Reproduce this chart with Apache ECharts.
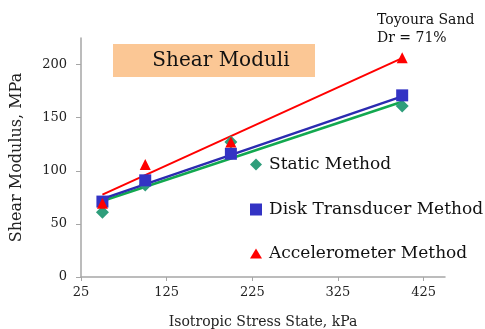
<!DOCTYPE html>
<html>
<head>
<meta charset="utf-8">
<script src="https://cdn.jsdelivr.net/npm/echarts@6/dist/echarts.min.js"></script>
<style>html,body{margin:0;padding:0;background:#fff}#c{width:485px;height:329px}</style>
</head>
<body>
<div id="c"></div>
<script>
// Data
var stress = [50, 100, 200, 400];
var staticMethod = [61, 86.5, 127, 161];
var diskTransducer = [71, 91, 116, 171];
var accelerometer = [69.5, 106, 127, 206.5];
// Trendline end points
var trendX = [50, 400];
var trendStatic = [71.5, 165];
var trendDisk = [73.5, 170];
var trendAccel = [77.5, 206];
var xTicks = [25, 125, 225, 325, 425];
var yTicks = [0, 50, 100, 150, 200];
var seriesNames = ['Static Method', 'Disk Transducer Method', 'Accelerometer Method'];

function pairs(xs, ys) { return xs.map(function (x, i) { return [x, ys[i]]; }); }

var FONT = 'DejaVu Serif';
var chart = echarts.init(document.getElementById('c'));
var legendBase = {
  orient: 'vertical', left: 245, itemWidth: 12, itemHeight: 12, selectedMode: false,
  textStyle: { fontFamily: FONT, fontSize: 17, color: '#111', padding: [0, 0, 0, 2] }
};
chart.setOption({
  animation: false,
  backgroundColor: '#fff',
  grid: { left: 81, right: 40, top: 38, bottom: 52, outerBoundsMode: 'none', containLabel: false },
  xAxis: {
    type: 'value', min: 25, max: 450,
    name: 'Isotropic Stress State, kPa', nameLocation: 'middle', nameGap: 38,
    nameTextStyle: { fontFamily: FONT, fontSize: 14, color: '#222' },
    axisLine: { show: true, lineStyle: { color: '#a6a6a6', width: 1.5 } },
    axisTick: { show: true, length: 4, lineStyle: { color: '#a6a6a6' }, customValues: xTicks },
    axisLabel: { fontFamily: FONT, fontSize: 13, color: '#222', margin: 9, customValues: xTicks },
    splitLine: { show: false }
  },
  yAxis: {
    type: 'value', min: 0, max: 225,
    name: 'Shear Modulus, MPa', nameLocation: 'middle', nameGap: 56,
    nameTextStyle: { fontFamily: FONT, fontSize: 16, color: '#222' },
    axisLine: { show: true, lineStyle: { color: '#a6a6a6', width: 1.5 } },
    axisTick: { show: true, length: 5, lineStyle: { color: '#a6a6a6' }, customValues: yTicks },
    axisLabel: { fontFamily: FONT, fontSize: 13, color: '#222', margin: 14, customValues: yTicks },
    splitLine: { show: false }
  },
  legend: [
    Object.assign({}, legendBase, { top: 151, data: [seriesNames[0]] }),
    Object.assign({}, legendBase, { top: 196, data: [seriesNames[1]] }),
    Object.assign({}, legendBase, { top: 240, data: [seriesNames[2]], itemWidth: 12, itemHeight: 10 })
  ],
  graphic: [
    { type: 'rect', shape: { x: 113, y: 44, width: 202, height: 33 }, style: { fill: '#FBC795' } },
    { type: 'text', x: 221, y: 61, style: { text: 'Shear Moduli', font: '20px "DejaVu Serif"', fill: '#111', align: 'center', verticalAlign: 'middle' } },
    { type: 'text', x: 377, y: 11, style: { text: 'Toyoura Sand\nDr = 71%', font: '14px "DejaVu Serif"', lineHeight: 18, fill: '#111', align: 'left', verticalAlign: 'top' } }
  ],
  series: [
    { type: 'line', data: pairs(trendX, trendStatic), symbol: 'none', lineStyle: { color: '#12a84f', width: 2.5 }, z: 2, silent: true },
    { type: 'line', data: pairs(trendX, trendDisk), symbol: 'none', lineStyle: { color: '#2b2bb0', width: 2.5 }, z: 2, silent: true },
    { type: 'line', data: pairs(trendX, trendAccel), symbol: 'none', lineStyle: { color: '#ff0000', width: 2 }, z: 2, silent: true },
    { name: seriesNames[0], type: 'scatter', data: pairs(stress, staticMethod), symbol: 'diamond', symbolSize: 13, itemStyle: { color: '#2f9e7b', opacity: 1 }, z: 3 },
    { name: seriesNames[1], type: 'scatter', data: pairs(stress, diskTransducer), symbol: 'rect', symbolSize: 12, itemStyle: { color: '#3333c4', opacity: 1 }, z: 4 },
    { name: seriesNames[2], type: 'scatter', data: pairs(stress, accelerometer), symbol: 'triangle', symbolSize: 11, itemStyle: { color: '#ff0000', opacity: 1 }, z: 5 }
  ]
});
</script>
</body>
</html>
